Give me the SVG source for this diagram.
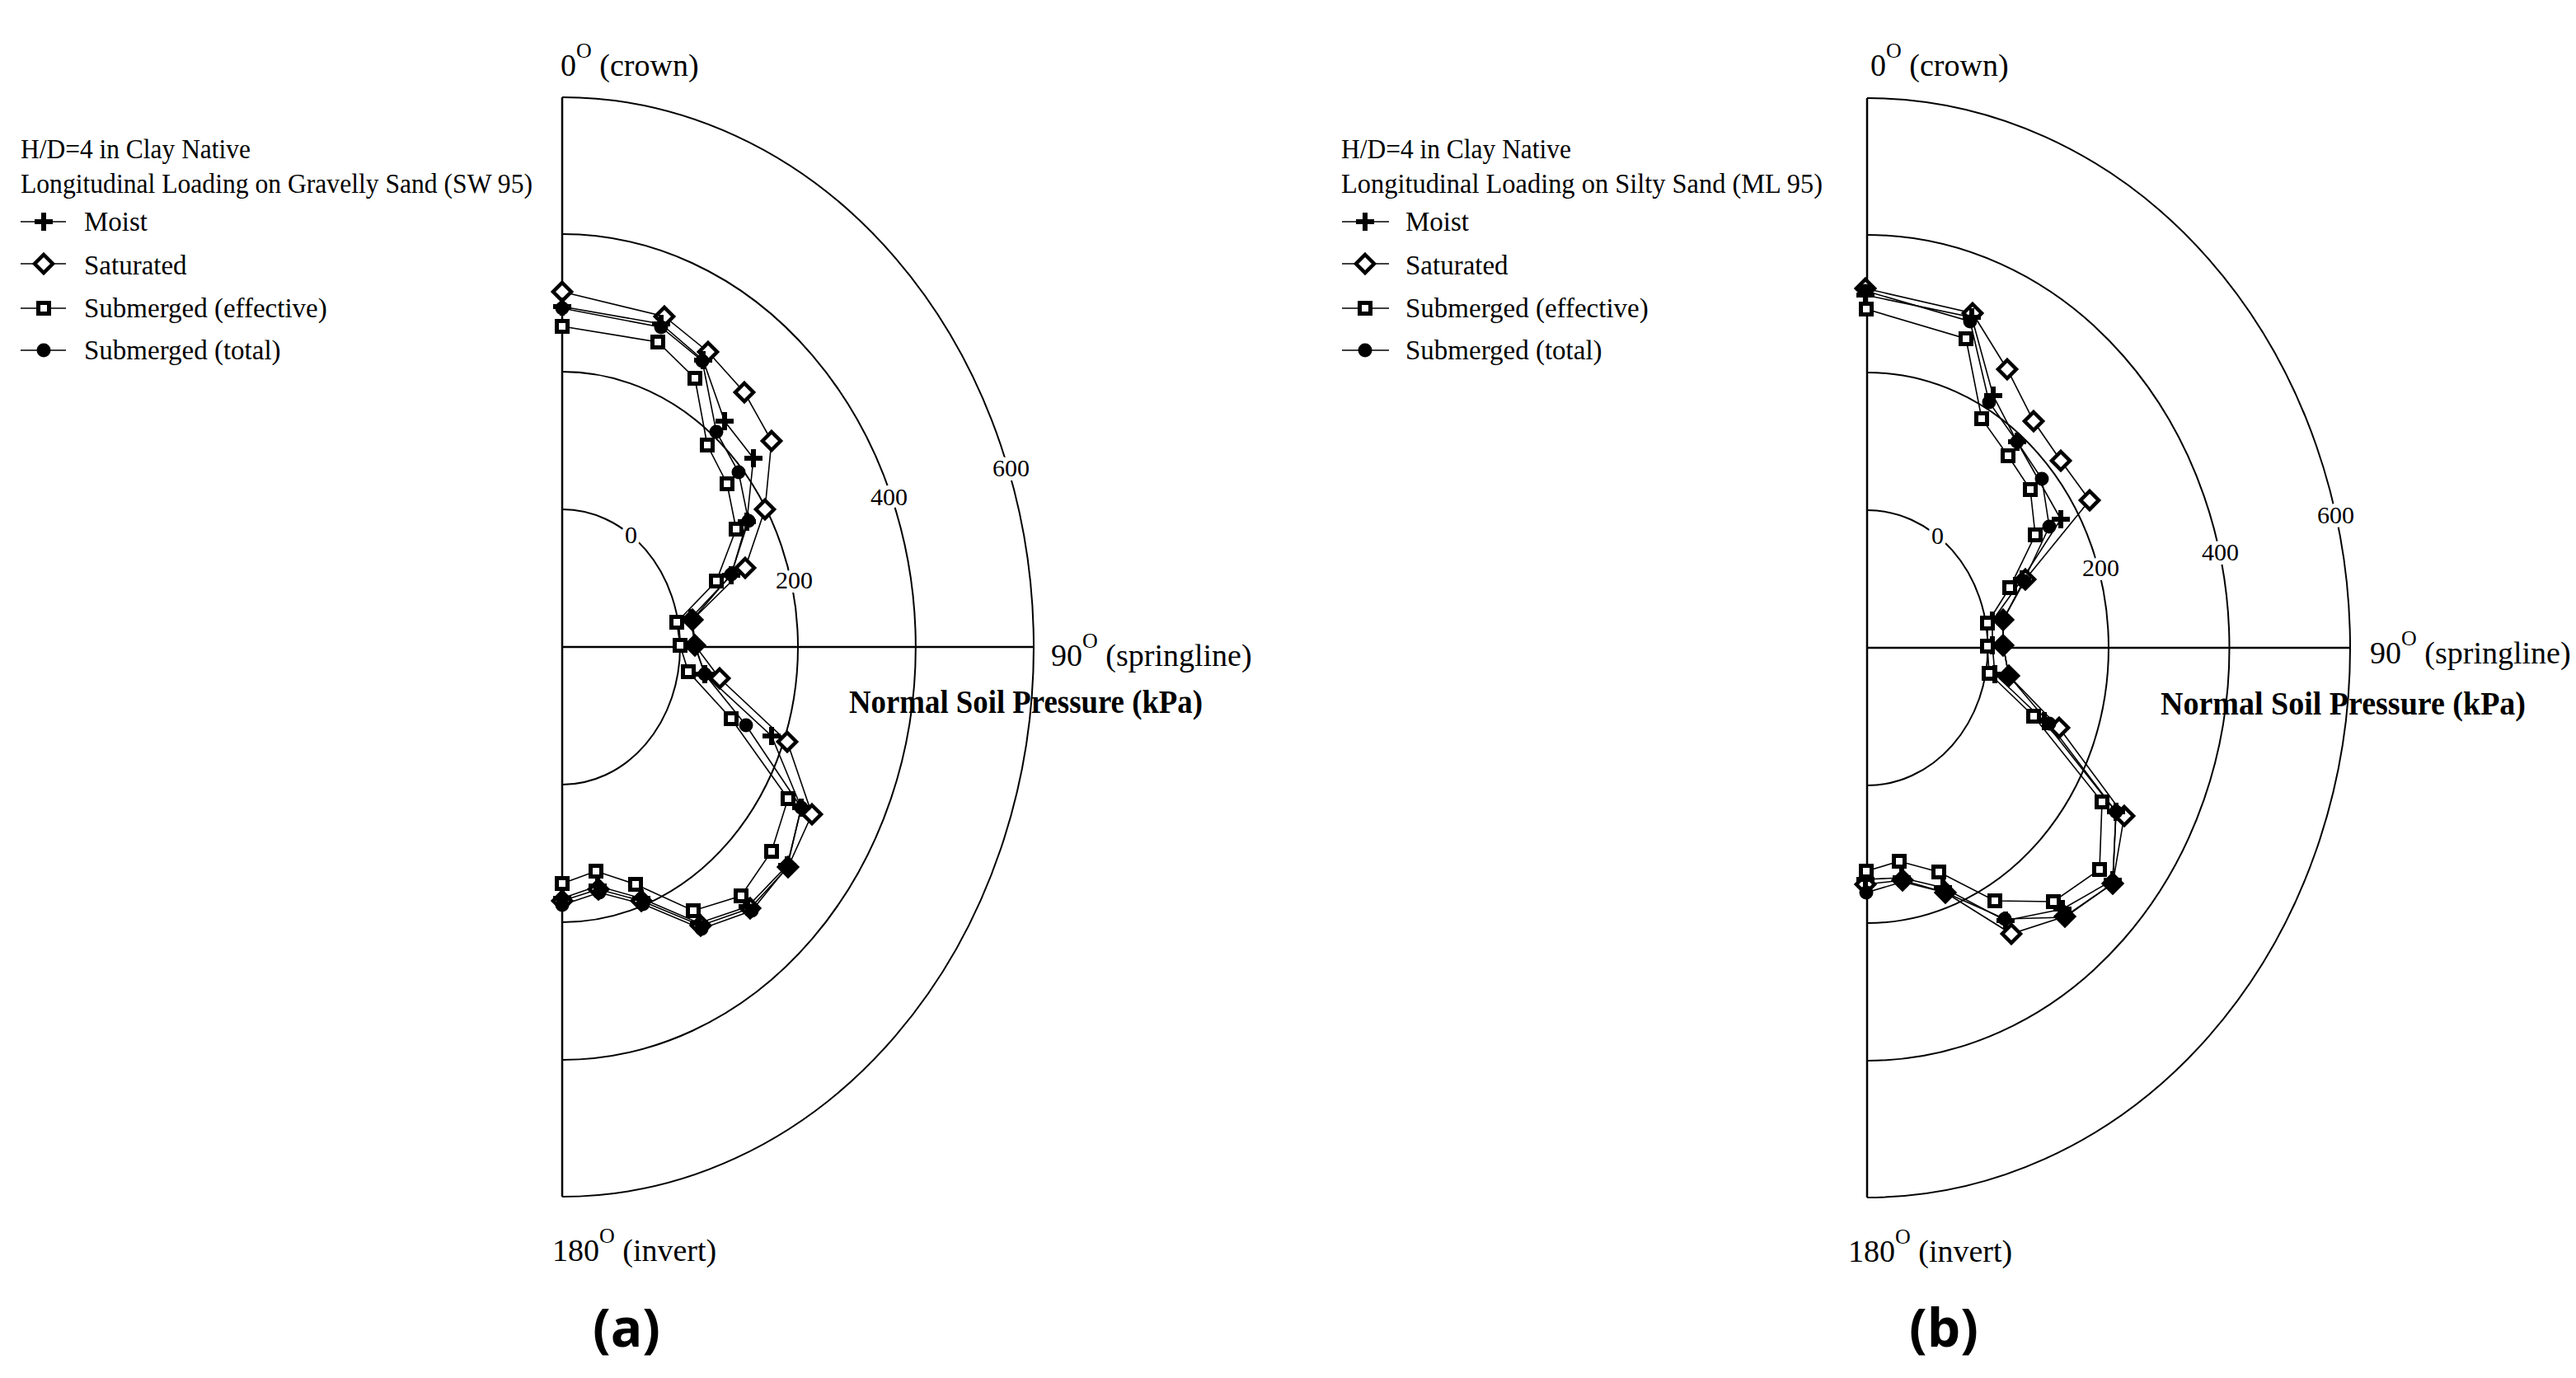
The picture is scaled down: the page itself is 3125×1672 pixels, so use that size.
<svg xmlns="http://www.w3.org/2000/svg" xmlns:xlink="http://www.w3.org/1999/xlink" width="3125" height="1672" viewBox="0 0 3125 1672">
<style>
.t{font-family:"Liberation Serif","Times New Roman",serif;fill:#000}
.lg{font-size:33px}
.ax{font-size:38px}
.tk{font-size:30px;stroke:#fff;stroke-width:10px;paint-order:stroke}
.np{font-size:40px;font-weight:bold}
.pl{font-family:"Open Sans","Liberation Sans",sans-serif;font-size:64px;font-weight:bold;fill:#000}
.ring{fill:none;stroke:#000;stroke-width:2}
.axis{fill:none;stroke:#000;stroke-width:2.5}
.ser{fill:none;stroke:#000;stroke-width:1.6}
</style>
<defs>
<g id="mPlus"><rect x="-11" y="-3" width="22" height="6"/><rect x="-3" y="-11" width="6" height="22"/></g>
<rect id="mSq" x="-6.5" y="-6.5" width="13" height="13" fill="#fff" stroke="#000" stroke-width="5"/>
<path id="mDia" d="M0,-11 L11,0 L0,11 L-11,0Z" fill="#fff" stroke="#000" stroke-width="4.5"/>
<circle id="mCir" r="8.5" fill="#000"/>
</defs>

<g id="panel-a-grid">
<path class="ring" d="M682,618 A143,167 0 0 1 682,952"/>
<path class="ring" d="M682,451 A286,334 0 0 1 682,1119"/>
<path class="ring" d="M682,284 A429,501 0 0 1 682,1286"/>
<path class="ring" d="M682,118 A572,667 0 0 1 682,1452"/>
<line class="axis" x1="682" y1="118" x2="682" y2="1452"/>
<line class="axis" x1="682" y1="785" x2="1254" y2="785"/>
<text class="t tk" x="758" y="659">0</text>
<text class="t tk" x="941" y="714">200</text>
<text class="t tk" x="1056" y="613">400</text>
<text class="t tk" x="1204" y="578">600</text>
</g>
<g id="panel-b-grid">
<path class="ring" d="M2265,619 A146.5,167 0 0 1 2265,953"/>
<path class="ring" d="M2265,452 A293,334 0 0 1 2265,1120"/>
<path class="ring" d="M2265,285 A439.5,501 0 0 1 2265,1287"/>
<path class="ring" d="M2265,119 A586,667 0 0 1 2265,1453"/>
<line class="axis" x1="2265" y1="119" x2="2265" y2="1453"/>
<line class="axis" x1="2265" y1="786" x2="2851" y2="786"/>
<text class="t tk" x="2343" y="660">0</text>
<text class="t tk" x="2526" y="699">200</text>
<text class="t tk" x="2671" y="680">400</text>
<text class="t tk" x="2811" y="635">600</text>
</g>

<g id="labels-a">
<text class="t ax" x="680" y="92">0<tspan font-size="26" dy="-22">O</tspan><tspan dy="22"> (crown)</tspan></text>
<text class="t ax" x="1275" y="808">90<tspan font-size="26" dy="-22">O</tspan><tspan dy="22">  (springline)</tspan></text>
<text class="t ax" x="670" y="1530">180<tspan font-size="26" dy="-22">O</tspan><tspan dy="22">  (invert)</tspan></text>
<text class="t np" x="1030" y="865" textLength="429" lengthAdjust="spacingAndGlyphs">Normal Soil Pressure (kPa)</text>
<text class="pl" x="719" y="1634">(a)</text>
</g>
<g id="labels-b">
<text class="t ax" x="2269" y="92">0<tspan font-size="26" dy="-22">O</tspan><tspan dy="22">  (crown)</tspan></text>
<text class="t ax" x="2875" y="805">90<tspan font-size="26" dy="-22">O</tspan><tspan dy="22"> (springline)</tspan></text>
<text class="t ax" x="2242" y="1531">180<tspan font-size="26" dy="-22">O</tspan><tspan dy="22">  (invert)</tspan></text>
<text class="t np" x="2621" y="867" textLength="443" lengthAdjust="spacingAndGlyphs">Normal Soil Pressure (kPa)</text>
<text class="pl" x="2316" y="1634">(b)</text>
</g>

<g id="legend-a">
<text class="t lg" x="25" y="192" textLength="279" lengthAdjust="spacingAndGlyphs">H/D=4 in Clay Native</text>
<text class="t lg" x="25" y="234" textLength="621" lengthAdjust="spacingAndGlyphs">Longitudinal Loading on Gravelly Sand (SW 95)</text>
<line class="ser" x1="25" y1="269" x2="80" y2="269"/><use href="#mPlus" x="53" y="269"/>
<text class="t lg" x="102" y="280">Moist</text>
<line class="ser" x1="25" y1="320" x2="80" y2="320"/><use href="#mDia" x="53" y="320"/>
<text class="t lg" x="102" y="333">Saturated</text>
<line class="ser" x1="25" y1="374" x2="80" y2="374"/><use href="#mSq" x="53" y="374"/>
<text class="t lg" x="102" y="385">Submerged (effective)</text>
<line class="ser" x1="25" y1="425" x2="80" y2="425"/><use href="#mCir" x="53" y="425"/>
<text class="t lg" x="102" y="436">Submerged (total)</text>
</g>
<g id="legend-b">
<text class="t lg" x="1627" y="192" textLength="279" lengthAdjust="spacingAndGlyphs">H/D=4 in Clay Native</text>
<text class="t lg" x="1627" y="234" textLength="584" lengthAdjust="spacingAndGlyphs">Longitudinal Loading on Silty Sand (ML 95)</text>
<line class="ser" x1="1628" y1="269" x2="1685" y2="269"/><use href="#mPlus" x="1656" y="269"/>
<text class="t lg" x="1705" y="280">Moist</text>
<line class="ser" x1="1628" y1="320" x2="1685" y2="320"/><use href="#mDia" x="1656" y="320"/>
<text class="t lg" x="1705" y="333">Saturated</text>
<line class="ser" x1="1628" y1="374" x2="1685" y2="374"/><use href="#mSq" x="1656" y="374"/>
<text class="t lg" x="1705" y="385">Submerged (effective)</text>
<line class="ser" x1="1628" y1="425" x2="1685" y2="425"/><use href="#mCir" x="1656" y="425"/>
<text class="t lg" x="1705" y="436">Submerged (total)</text>
</g>

<g id="connectors">
<polyline id="a-sat" class="ser" points="682,354 806,384 859,427 903,476 936,535 928,618 904,689 840,752 843,783 873,823 955,900 985,988 956,1052 910,1102 850,1123 778,1093 726,1079 682,1093"/>
<polyline id="a-moist" class="ser" points="682,372 802,393 853,437 879,511 914,556 906,633 887,698 838,750 843,783 855,818 936,893 972,980 955,1050 907,1100 848,1120 778,1090 725,1075 682,1090"/>
<polyline id="a-eff" class="ser" points="682,396 798,415 843,459 858,540 882,587 893,642 869,705 821,755 825,783 835,815 887,872 956,969 936,1033 899,1087 841,1105 771,1073 723,1057 682,1072"/>
<polyline id="a-tot" class="ser" points="682,374 802,397 852,438 869,524 896,573 908,632 887,697 840,752 843,783 855,818 905,880 972,980 955,1052 912,1105 851,1127 780,1097 727,1083 682,1098"/>
<polyline id="b-sat" class="ser" points="2263,350 2393,380 2435,448 2467,511 2500,559 2535,607 2457,703 2430,752 2430,783 2437,820 2498,883 2577,990 2563,1072 2505,1112 2440,1133 2360,1083 2308,1068 2263,1073"/>
<polyline id="b-eff" class="ser" points="2264,375 2385,411 2404,508 2436,553 2463,594 2469,649 2438,713 2411,756 2411,784 2413,817 2467,869 2550,973 2547,1055 2491,1094 2420,1093 2352,1058 2304,1045 2264,1057"/>
<polyline id="b-tot" class="ser" points="2263,353 2390,390 2413,488 2447,536 2477,581 2486,639 2455,705 2430,752 2430,783 2437,820 2486,878 2567,985 2563,1072 2505,1113 2432,1115 2360,1083 2308,1070 2264,1083"/>
<polyline id="b-moist" class="ser" points="2263,358 2392,385 2418,480 2447,536 2500,630 2453,703 2417,753 2417,783 2420,818 2480,875 2567,985 2563,1068 2502,1103 2433,1117 2357,1077 2307,1065 2263,1067"/>
</g>

<g id="markers-a-sat">
<use href="#mDia" x="682" y="354"/><use href="#mDia" x="806" y="384"/><use href="#mDia" x="859" y="427"/><use href="#mDia" x="903" y="476"/><use href="#mDia" x="936" y="535"/><use href="#mDia" x="928" y="618"/><use href="#mDia" x="904" y="689"/><use href="#mDia" x="840" y="752"/><use href="#mDia" x="843" y="783"/><use href="#mDia" x="873" y="823"/><use href="#mDia" x="955" y="900"/><use href="#mDia" x="985" y="988"/><use href="#mDia" x="956" y="1052"/><use href="#mDia" x="910" y="1102"/><use href="#mDia" x="850" y="1123"/><use href="#mDia" x="778" y="1093"/><use href="#mDia" x="726" y="1079"/><use href="#mDia" x="682" y="1093"/>
</g>
<g id="markers-a-moist">
<use href="#mPlus" x="682" y="372"/><use href="#mPlus" x="802" y="393"/><use href="#mPlus" x="853" y="437"/><use href="#mPlus" x="879" y="511"/><use href="#mPlus" x="914" y="556"/><use href="#mPlus" x="906" y="633"/><use href="#mPlus" x="887" y="698"/><use href="#mPlus" x="838" y="750"/><use href="#mPlus" x="843" y="783"/><use href="#mPlus" x="855" y="818"/><use href="#mPlus" x="936" y="893"/><use href="#mPlus" x="972" y="980"/><use href="#mPlus" x="955" y="1050"/><use href="#mPlus" x="907" y="1100"/><use href="#mPlus" x="848" y="1120"/><use href="#mPlus" x="778" y="1090"/><use href="#mPlus" x="725" y="1075"/><use href="#mPlus" x="682" y="1090"/>
</g>
<g id="markers-a-eff">
<use href="#mSq" x="682" y="396"/><use href="#mSq" x="798" y="415"/><use href="#mSq" x="843" y="459"/><use href="#mSq" x="858" y="540"/><use href="#mSq" x="882" y="587"/><use href="#mSq" x="893" y="642"/><use href="#mSq" x="869" y="705"/><use href="#mSq" x="821" y="755"/><use href="#mSq" x="825" y="783"/><use href="#mSq" x="835" y="815"/><use href="#mSq" x="887" y="872"/><use href="#mSq" x="956" y="969"/><use href="#mSq" x="936" y="1033"/><use href="#mSq" x="899" y="1087"/><use href="#mSq" x="841" y="1105"/><use href="#mSq" x="771" y="1073"/><use href="#mSq" x="723" y="1057"/><use href="#mSq" x="682" y="1072"/>
</g>
<g id="markers-a-tot">
<use href="#mCir" x="682" y="374"/><use href="#mCir" x="802" y="397"/><use href="#mCir" x="852" y="438"/><use href="#mCir" x="869" y="524"/><use href="#mCir" x="896" y="573"/><use href="#mCir" x="908" y="632"/><use href="#mCir" x="887" y="697"/><use href="#mCir" x="840" y="752"/><use href="#mCir" x="843" y="783"/><use href="#mCir" x="855" y="818"/><use href="#mCir" x="905" y="880"/><use href="#mCir" x="972" y="980"/><use href="#mCir" x="955" y="1052"/><use href="#mCir" x="912" y="1105"/><use href="#mCir" x="851" y="1127"/><use href="#mCir" x="780" y="1097"/><use href="#mCir" x="727" y="1083"/><use href="#mCir" x="682" y="1098"/>
</g>
<g id="markers-b-sat">
<use href="#mDia" x="2263" y="350"/><use href="#mDia" x="2393" y="380"/><use href="#mDia" x="2435" y="448"/><use href="#mDia" x="2467" y="511"/><use href="#mDia" x="2500" y="559"/><use href="#mDia" x="2535" y="607"/><use href="#mDia" x="2457" y="703"/><use href="#mDia" x="2430" y="752"/><use href="#mDia" x="2430" y="783"/><use href="#mDia" x="2437" y="820"/><use href="#mDia" x="2498" y="883"/><use href="#mDia" x="2577" y="990"/><use href="#mDia" x="2563" y="1072"/><use href="#mDia" x="2505" y="1112"/><use href="#mDia" x="2440" y="1133"/><use href="#mDia" x="2360" y="1083"/><use href="#mDia" x="2308" y="1068"/><use href="#mDia" x="2263" y="1073"/>
</g>
<g id="markers-b-moist">
<use href="#mPlus" x="2263" y="358"/><use href="#mPlus" x="2392" y="385"/><use href="#mPlus" x="2418" y="480"/><use href="#mPlus" x="2447" y="536"/><use href="#mPlus" x="2500" y="630"/><use href="#mPlus" x="2453" y="703"/><use href="#mPlus" x="2417" y="753"/><use href="#mPlus" x="2417" y="783"/><use href="#mPlus" x="2420" y="818"/><use href="#mPlus" x="2480" y="875"/><use href="#mPlus" x="2567" y="985"/><use href="#mPlus" x="2563" y="1068"/><use href="#mPlus" x="2502" y="1103"/><use href="#mPlus" x="2433" y="1117"/><use href="#mPlus" x="2357" y="1077"/><use href="#mPlus" x="2307" y="1065"/><use href="#mPlus" x="2263" y="1067"/>
</g>
<g id="markers-b-eff">
<use href="#mSq" x="2264" y="375"/><use href="#mSq" x="2385" y="411"/><use href="#mSq" x="2404" y="508"/><use href="#mSq" x="2436" y="553"/><use href="#mSq" x="2463" y="594"/><use href="#mSq" x="2469" y="649"/><use href="#mSq" x="2438" y="713"/><use href="#mSq" x="2411" y="756"/><use href="#mSq" x="2411" y="784"/><use href="#mSq" x="2413" y="817"/><use href="#mSq" x="2467" y="869"/><use href="#mSq" x="2550" y="973"/><use href="#mSq" x="2547" y="1055"/><use href="#mSq" x="2491" y="1094"/><use href="#mSq" x="2420" y="1093"/><use href="#mSq" x="2352" y="1058"/><use href="#mSq" x="2304" y="1045"/><use href="#mSq" x="2264" y="1057"/>
</g>
<g id="markers-b-tot">
<use href="#mCir" x="2263" y="353"/><use href="#mCir" x="2390" y="390"/><use href="#mCir" x="2413" y="488"/><use href="#mCir" x="2447" y="536"/><use href="#mCir" x="2477" y="581"/><use href="#mCir" x="2486" y="639"/><use href="#mCir" x="2455" y="705"/><use href="#mCir" x="2430" y="752"/><use href="#mCir" x="2430" y="783"/><use href="#mCir" x="2437" y="820"/><use href="#mCir" x="2486" y="878"/><use href="#mCir" x="2567" y="985"/><use href="#mCir" x="2563" y="1072"/><use href="#mCir" x="2505" y="1113"/><use href="#mCir" x="2432" y="1115"/><use href="#mCir" x="2360" y="1083"/><use href="#mCir" x="2308" y="1070"/><use href="#mCir" x="2264" y="1083"/>
</g>
</svg>
